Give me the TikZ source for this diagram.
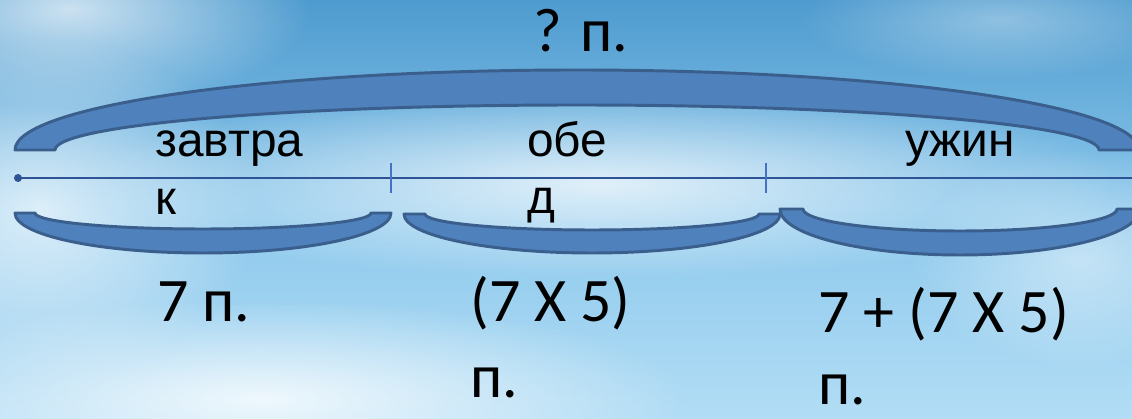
\documentclass[tikz,border=0pt]{standalone}
\usepackage{fontspec}
\setmainfont{Liberation Sans}
\newfontfamily\answerfont{Carlito}
\usetikzlibrary{calc,fadings}

\definecolor{braceblue}{HTML}{4F81BD}
\definecolor{bracedark}{HTML}{3A5F8C}
\definecolor{linedark}{HTML}{2F5496}
\definecolor{tickblue}{HTML}{4472C4}
\definecolor{skytop}{HTML}{4E9BCF}
\definecolor{skymid}{HTML}{8CC8EC}
\definecolor{skylow}{HTML}{B2DDF5}

\tikzfading[name=softspot, inner color=transparent!0, outer color=transparent!100]

\tikzset{
  bracearc/.style={fill=braceblue, draw=bracedark, line width=2.1pt, line join=round},
  word/.style={anchor=base west, inner sep=0pt, font=\fontsize{34pt}{41pt}\selectfont},
  answer/.style={anchor=base west, inner sep=0pt, font=\answerfont\fontsize{44pt}{55pt}\selectfont},
  cloud/.style={fill=white, path fading=softspot}
}

\begin{document}
\begin{tikzpicture}[x=0.025cm, y=0.025cm]

    % Sky background
    \useasboundingbox (0,0) rectangle (1132,419);
    \shade[top color=skytop, bottom color=skylow, middle color=skymid] (0,0) rectangle (1132,419);
    \fill[cloud, opacity=0.75] (600,235) ellipse (520 and 95);
    \fill[cloud, opacity=0.7] (40,210) ellipse (220 and 170);
    \fill[cloud, opacity=0.8] (260,20) ellipse (430 and 100);
    \fill[cloud, opacity=0.7] (70,410) ellipse (240 and 100);
    \fill[cloud, opacity=0.45] (1080,160) ellipse (170 and 110);
    \fill[cloud, opacity=0.35] (1000,400) ellipse (200 and 60);

    % Total brace over the whole line
    \draw[bracearc] (15,269) arc[start angle=180, end angle=0, x radius=562, y radius=80]
        -- (1099,269) arc[start angle=0, end angle=180, x radius=522, y radius=45] -- cycle;

    % Braces under the three parts
    \draw[bracearc] (15,206) arc[start angle=180, end angle=360, x radius=188, y radius=40]
        -- (371,206) arc[start angle=360, end angle=180, x radius=168, y radius=16] -- cycle;
    \draw[bracearc] (404,205) arc[start angle=180, end angle=360, x radius=188, y radius=39]
        -- (759,205) arc[start angle=360, end angle=180, x radius=167, y radius=16] -- cycle;
    \draw[bracearc] (780,210) arc[start angle=180, end angle=360, x radius=180, y radius=46]
        -- (1117,210) arc[start angle=360, end angle=180, x radius=157, y radius=22] -- cycle;

    % Number line with its two division marks
    \coordinate (start) at (18,241);
    \coordinate (end) at (1132,241);
    \draw[linedark, line width=1.4pt] (start) -- (end);
    \fill[linedark] (start) circle (4);
    \coordinate (T1) at (391,256);
    \coordinate (T2) at (766,256);
    \draw[tickblue, line width=1pt] (T1) -- ++(0,-30);
    \draw[tickblue, line width=1pt] (T2) -- ++(0,-30);

    % Labels of the meals
    \node[word] (zavtra) at (155,262) {завтра};
    \node[word] (zavtrak) at (155,204) {к};
    \node[word] (obe) at (527,262) {обе};
    \node[word] (obed) at (527,205) {д};
    \node[word] (uzhin) at (905,262) {ужин};

    % Amounts
    \node[answer] (total) at (533,367) {? п.};
    \node[answer] (first) at (157,97) {7 п.};
    \node[answer] (second) at (470,97) {(7 X 5)};
    \node[answer] (secondp) at (470,21) {п.};
    \node[answer] (third) at (818,86) {7 + (7 X 5)};
    \node[answer] (thirdp) at (818,14) {п.};

\end{tikzpicture}
\end{document}
